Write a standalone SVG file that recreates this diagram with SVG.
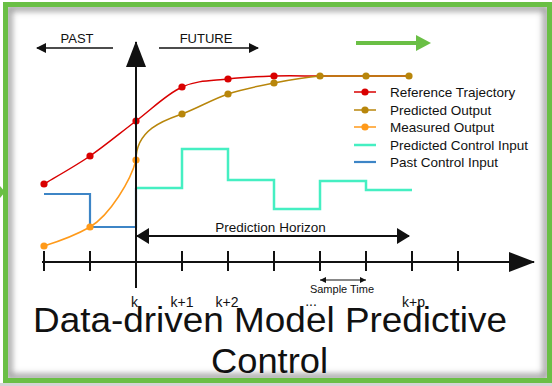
<svg xmlns="http://www.w3.org/2000/svg" width="552" height="386" viewBox="0 0 552 386">
  <style>
    .ax { stroke: #111; stroke-width: 2; fill: none; }
    .thin { stroke: #111; stroke-width: 1.6; fill: none; }
    .t { font-family: "Liberation Sans", Arial, sans-serif; fill: #111; }
    .red { stroke: #d90000; stroke-width: 1.5; fill: none; }
    .brn { stroke: #b8860b; stroke-width: 1.5; fill: none; }
    .org { stroke: #ff9a1a; stroke-width: 1.5; fill: none; }
    .teal { stroke: #45efc2; stroke-width: 2.5; fill: none; }
    .blue { stroke: #3d85c6; stroke-width: 2.2; fill: none; }
    .dr { fill: #d90000; }
    .db { fill: #b8860b; }
    .do { fill: #ff9a1a; }
  </style>
  <defs>
    <marker id="big" viewBox="0 0 26 20" refX="25" refY="10" markerWidth="26" markerHeight="20" markerUnits="userSpaceOnUse" orient="auto">
      <path d="M0,0 L26,10 L0,20 z" fill="#111"/>
    </marker>
    <marker id="mid" viewBox="0 0 13 16" refX="12" refY="8" markerWidth="13" markerHeight="16" markerUnits="userSpaceOnUse" orient="auto-start-reverse">
      <path d="M0,0 L13,8 L0,16 z" fill="#111"/>
    </marker>
    <marker id="sm" viewBox="0 0 10 10" refX="9" refY="5" markerWidth="10" markerHeight="10" markerUnits="userSpaceOnUse" orient="auto-start-reverse">
      <path d="M0,0 L10,5 L0,10 z" fill="#111"/>
    </marker>
    <marker id="tiny" viewBox="0 0 6 6" refX="6" refY="3" markerWidth="6" markerHeight="6" markerUnits="userSpaceOnUse" orient="auto-start-reverse">
      <path d="M0,0 L6,3 L0,6 z" fill="#111"/>
    </marker>
    <filter id="blur" x="-10%" y="-10%" width="120%" height="120%">
      <feGaussianBlur stdDeviation="3"/>
    </filter>
    <clipPath id="inner">
      <rect x="8" y="7" width="539" height="371"/>
    </clipPath>
  </defs>

  <rect x="0" y="0" width="552" height="386" fill="#ffffff"/>
  <rect x="0" y="383" width="552" height="3" fill="#d4d4d4"/>

  <g id="frame">
    <g clip-path="url(#inner)">
      <rect x="9" y="8" width="537" height="369" fill="none" stroke="#9a9a9a" stroke-width="6" filter="url(#blur)"/>
    </g>
    <rect x="5.5" y="4.5" width="544" height="376" fill="none" stroke="#6abf45" stroke-width="5"/>
    <polygon points="0,186 5,192 0,198" fill="#6abf45"/>
  </g>

  <g id="green-arrow">
    <line x1="356" y1="43" x2="418" y2="43" stroke="#6abf45" stroke-width="4"/>
    <polygon points="416,35 431,43 416,51" fill="#6abf45"/>
  </g>

  <g id="past-future">
    <line class="thin" x1="113" y1="48" x2="37" y2="48" marker-end="url(#sm)"/>
    <text class="t" x="77" y="43" font-size="13" text-anchor="middle">PAST</text>
    <line class="thin" x1="159" y1="48" x2="258" y2="48" marker-end="url(#sm)"/>
    <text class="t" x="206" y="43" font-size="13" text-anchor="middle">FUTURE</text>
  </g>

  <g id="control-inputs">
    <path class="blue" d="M44,194 H90 V227 H136 V188"/>
    <path class="teal" d="M136,188 H182 V149 H228 V180 H274 V209 H320 V181 H366 V190 H412"/>
  </g>

  <g id="reference-trajectory">
    <path class="red" d="M44,184 C51.7,179.3 74.7,166.5 90,156 C105.3,145.5 120.7,132.5 136,121 C151.3,109.5 166.7,94 182,87 C197.3,80 212.7,80.8 228,79 C243.3,77.2 258.7,76.5 274,76 C289.3,75.5 304.7,76 320,76 L410,76"/>
    <circle class="dr" cx="44" cy="184" r="3.6"/>
    <circle class="dr" cx="90" cy="156" r="3.6"/>
    <circle class="dr" cx="136" cy="121" r="3.6"/>
    <circle class="dr" cx="182" cy="87" r="3.6"/>
    <circle class="dr" cx="228" cy="79" r="3.6"/>
    <circle class="dr" cx="274" cy="76" r="3.6"/>
  </g>

  <g id="predicted-output">
    <path class="brn" d="M136,160 C136,128 168,119 182,114 C197,108.5 212.7,99.2 228,94 C243.3,88.8 258.7,86 274,83 C289.3,80 304.7,77.2 320,76 L410,76"/>
    <circle class="db" cx="182" cy="114" r="3.6"/>
    <circle class="db" cx="228" cy="94" r="3.6"/>
    <circle class="db" cx="274" cy="83" r="3.6"/>
    <circle class="db" cx="320" cy="76" r="3.6"/>
    <circle class="db" cx="366" cy="76" r="3.6"/>
    <circle class="db" cx="409" cy="76" r="3.6"/>
  </g>

  <g id="measured-output">
    <path class="org" d="M44,246 C60,241 76,235 90,227 C110,215 131,180 136,160"/>
    <circle class="do" cx="44" cy="246" r="3.6"/>
    <circle class="do" cx="90" cy="227" r="3.6"/>
    <circle class="do" cx="136" cy="160" r="3.6"/>
  </g>

  <g id="axes">
    <line class="ax" x1="136" y1="288" x2="136" y2="42" marker-end="url(#big)"/>
    <line class="ax" x1="42" y1="262" x2="534" y2="262" marker-end="url(#big)"/>
    <path class="ax" d="M44,251 V271 M90,251 V271 M182,251 V271 M228,251 V271 M274,251 V271 M320,251 V271 M366,251 V271 M412,251 V271 M458,251 V271"/>
  </g>

  <g id="prediction-horizon">
    <line class="ax" x1="137" y1="236" x2="409" y2="236" marker-start="url(#mid)" marker-end="url(#mid)"/>
    <text class="t" x="270.5" y="232" font-size="13.5" text-anchor="middle">Prediction Horizon</text>
  </g>

  <g id="sample-time">
    <line stroke="#111" stroke-width="1" x1="320" y1="280" x2="366" y2="280" marker-start="url(#tiny)" marker-end="url(#tiny)"/>
    <text class="t" x="342" y="293" font-size="11" text-anchor="middle">Sample Time</text>
  </g>

  <g id="tick-labels" class="t" font-size="14" text-anchor="middle">
    <text x="134.5" y="307">k</text>
    <text x="182" y="307">k+1</text>
    <text x="227" y="307">k+2</text>
    <text x="311" y="306">...</text>
    <text x="413.5" y="307">k+p</text>
  </g>

  <g id="legend">
    <line class="red" x1="354" y1="92" x2="376" y2="92"/><circle class="dr" cx="365" cy="92" r="3.6"/>
    <line class="brn" x1="354" y1="110" x2="376" y2="110"/><circle class="db" cx="365" cy="110" r="3.6"/>
    <line class="org" x1="354" y1="127" x2="376" y2="127"/><circle class="do" cx="365" cy="127" r="3.6"/>
    <line class="teal" x1="354" y1="145" x2="376" y2="145" stroke-width="2"/>
    <line class="blue" x1="354" y1="162" x2="376" y2="162" stroke-width="2"/>
    <g class="t" font-size="13.5">
      <text x="390" y="97">Reference Trajectory</text>
      <text x="390" y="115">Predicted Output</text>
      <text x="390" y="132">Measured Output</text>
      <text x="390" y="150">Predicted Control Input</text>
      <text x="390" y="167">Past Control Input</text>
    </g>
  </g>

  <g id="title" class="t" font-size="35" text-anchor="middle">
    <text x="270" y="332" textLength="474" lengthAdjust="spacingAndGlyphs">Data-driven Model Predictive</text>
    <text x="269.5" y="373" textLength="117" lengthAdjust="spacingAndGlyphs">Control</text>
  </g>
</svg>
